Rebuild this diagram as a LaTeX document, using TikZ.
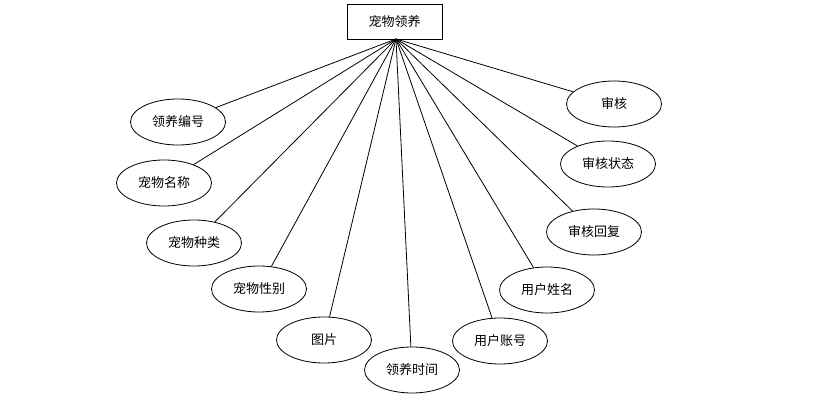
\documentclass[tikz,border=0pt]{standalone}
\usepackage{fontspec}
\setmainfont{Noto Sans CJK SC}
\usetikzlibrary{shapes.geometric}
\begin{document}
\begin{tikzpicture}[x=1pt,y=-1pt,
  attr/.style={draw,ellipse,line width=0.8pt,minimum width=95pt,minimum height=46pt,inner sep=0pt,font=\fontsize{13}{15}\selectfont},
  ent/.style={draw,rectangle,line width=0.8pt,minimum width=95pt,minimum height=35pt,inner sep=0pt,font=\fontsize{13}{15}\selectfont},
  link/.style={line width=0.8pt}]
\useasboundingbox (0,0) rectangle (820,401);
\node[ent] (top) at (394.5,21.5) {宠物领养};
\coordinate (apex) at (396,39);
\node[attr] (a1) at (178,122) {领养编号};
\node[attr] (a2) at (164,183) {宠物名称};
\node[attr] (a3) at (194,243) {宠物种类};
\node[attr] (a4) at (259,289) {宠物性别};
\node[attr] (a5) at (324,340) {图片};
\node[attr] (a6) at (412,370) {领养时间};
\node[attr] (a7) at (500,341) {用户账号};
\node[attr] (a8) at (547,290) {用户姓名};
\node[attr] (a9) at (594,232) {审核回复};
\node[attr] (a10) at (608,164) {审核状态};
\node[attr] (a11) at (614,104) {审核};
\foreach \n in {a1,a2,a3,a4,a5,a6,a7,a8,a9,a10,a11}
  \draw[link] (apex) -- (\n);
\end{tikzpicture}
\end{document}
